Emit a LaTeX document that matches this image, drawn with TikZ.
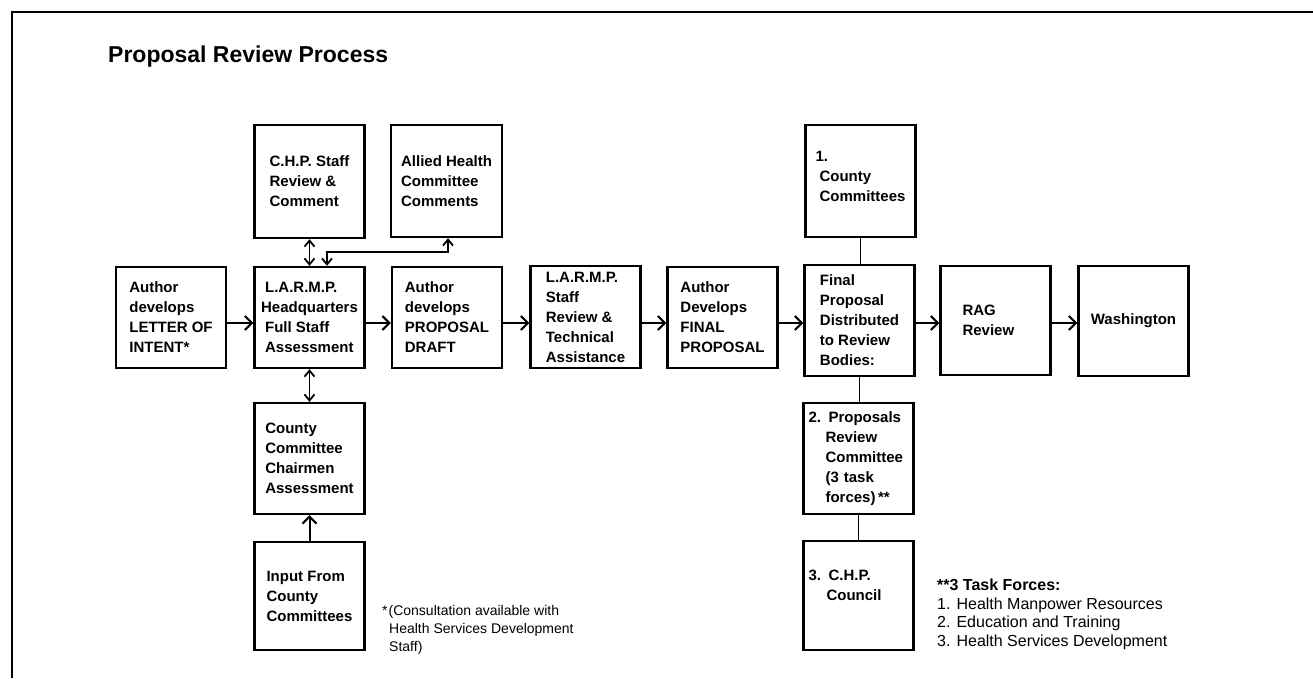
\documentclass[tikz,border=0pt]{standalone}
\usepackage{fontspec}
\setmainfont{Liberation Sans}
\usetikzlibrary{arrows.meta}
\newcommand\boxfnt{\fontsize{15}{20}\selectfont\bfseries}
\newcommand\notefnt{\fontsize{14}{18}\selectfont}
\newcommand\taskfnt{\fontsize{16}{18}\selectfont}
\newcommand\taskbfnt{\fontsize{16}{18}\selectfont\bfseries}
\newcommand\titlefnt{\fontsize{23}{28}\selectfont\bfseries}
\begin{document}
\begin{tikzpicture}[x=1pt,y=-1pt,
  box/.style={draw, line width=2.4pt, minimum width=110pt,
    inner xsep=10pt, inner ysep=0pt, align=left, font=\boxfnt},
  tw/.style={text width=90pt},
  arr/.style={line width=2pt, -{Straight Barb[length=7pt,width=14pt]}},
  darr/.style={line width=1.8pt, {Straight Barb[length=6pt,width=10pt]}-{Straight Barb[length=6pt,width=10pt]}},
  link/.style={line width=1.6pt},
  note/.style={anchor=base west, inner sep=0pt, font=\notefnt},
  task/.style={anchor=base west, inner sep=0pt, font=\taskfnt}]
\useasboundingbox (0,0) rectangle (1313,678);
% frame
\draw[line width=2.5pt] (12,678) -- (12,12) -- (1313,12);
% title
\node[anchor=base west, inner sep=0pt, font=\titlefnt] (title) at (108,62) {Proposal Review Process};
% boxes
\node[box, minimum height=101pt] (letter) at (171,317.5) {Author\\develops\\LETTER OF\\INTENT*};
\node[box, minimum height=113pt] (chp) at (309.5,181.5) {C.H.P. Staff\\Review \&\\Comment};
\node[box, minimum height=112pt] (allied) at (446.5,181) {Allied Health\\Committee\\Comments};
\node[box, inner xsep=5pt, minimum height=101pt] (hq) at (309.5,317.5) {\hspace*{4pt}L.A.R.M.P.\\Headquarters\\\hspace*{4pt}Full Staff\\\hspace*{4pt}Assessment};
\node[box, minimum height=101pt] (draft) at (447,317.5) {Author\\develops\\PROPOSAL\\DRAFT};
\node[box, minimum height=102pt] (staff) at (585.5,317) {L.A.R.M.P.\\Staff\\Review \&\\Technical\\Assistance};
\node[box, minimum height=101pt] (final) at (722.5,317.5) {Author\\Develops\\FINAL\\PROPOSAL};
\node[box, minimum height=112pt] (cc) at (860.5,181) {1.\\\hspace*{4pt}County\\\hspace*{4pt}Committees\\[-10pt]\mbox{}};
\node[box, minimum height=111pt] (dist) at (859.5,320.5) {Final\\Proposal\\Distributed\\to Review\\Bodies:};
\node[box, tw, minimum height=109pt] (rag) at (995.5,320.5) {\hspace*{12pt}RAG\\\hspace*{12pt}Review};
\node[box, minimum height=110pt, align=center] (wash) at (1133.5,321) {Washington};
\node[box, tw, minimum height=111pt] (prc) at (858.5,458.5) {\hspace*{-5pt}2. Proposals\\\hspace*{12pt}Review\\\hspace*{12pt}Committee\\\hspace*{12pt}(3 task\\\hspace*{12pt}forces)\,**};
\node[box, tw, minimum height=109pt] (council) at (858.5,595.5) {\hspace*{-5pt}3. C.H.P.\\\hspace*{13pt}Council\\\mbox{}};
\node[box, minimum height=111pt] (chair) at (309.5,458.5) {County\\Committee\\Chairmen\\Assessment};
\node[box, minimum height=108pt] (input) at (309.5,596) {Input From\\County\\Committees};
% main flow
\coordinate (my) at (0,323);
\draw[arr] (letter.east |- my) -- (hq.west |- my);
\draw[arr] (hq.east |- my) -- (draft.west |- my);
\draw[arr] (draft.east |- my) -- (staff.west |- my);
\draw[arr] (staff.east |- my) -- (final.west |- my);
\draw[arr] (final.east |- my) -- (dist.west |- my);
\draw[arr] (dist.east |- my) -- (rag.west |- my);
\draw[arr] (rag.east |- my) -- (wash.west |- my);
% review links
\draw[darr] (chp.south) -- (hq.north);
\coordinate (ax) at (448,252);
\coordinate (hx) at (327,252);
\draw[darr] (allied.south -| ax) -- (ax) -- (hx) -- (hq.north -| hx);
\draw[darr] (hq.south) -- (chair.north);
\draw[arr] (input.north) -- (chair.south);
\draw[link] (cc.south) -- (cc.south |- dist.north);
\draw[link] (dist.south) -- (dist.south |- prc.north);
\draw[link] (prc.south) -- (prc.south |- council.north);
% notes
\node[note] (fa) at (382,615) {*\hspace{1pt}(Consultation available with};
\node[note] (fb) at (389,633) {Health Services Development};
\node[note] (fc) at (389,651) {Staff)};
\node[task, font=\taskbfnt] (ta) at (937,590) {**3 Task Forces:};
\node[task] (tb) at (937,609) {1.\hspace{6pt}Health Manpower Resources};
\node[task] (tc) at (937,627.5) {2.\hspace{6pt}Education and Training};
\node[task] (td) at (937,646) {3.\hspace{6pt}Health Services Development};
\end{tikzpicture}
\end{document}
